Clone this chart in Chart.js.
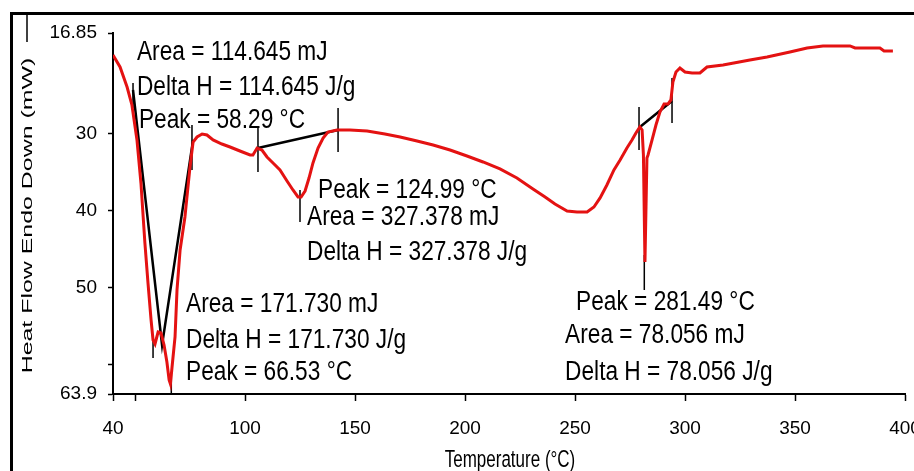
<!DOCTYPE html>
<html>
<head>
<meta charset="utf-8">
<script src="https://cdn.jsdelivr.net/npm/chart.js@4/dist/chart.umd.min.js"></script>
<style>
  html, body { margin: 0; padding: 0; background: #fff; }
  #wrap { width: 914px; height: 471px; position: relative; }
</style>
</head>
<body>
<div id="wrap"><canvas id="c"></canvas></div>
<script>
// ---- DSC curve (temperature in °C, heat flow in mW) ----
const tempC = [40, 43.2, 46.4, 48.6, 50.9, 52.7, 54.5, 55.9, 57.3, 58.2, 59.1, 60.5, 61.8, 63.2, 64.5, 65.5, 66.1, 66.8, 68.2, 69.1, 70.5, 72.7, 75.0, 76.4, 78.2, 80.5, 82.7, 85.5, 89.5, 93.2, 97.7, 102.3, 103.6, 105.5, 107.7, 110, 113.2, 115.9, 119.1, 121.8, 124.1, 125.5, 127.3, 129.1, 130.9, 133.2, 135.5, 137.7, 141.8, 147.7, 155.5, 163.6, 170.5, 178.2, 185.5, 193.2, 200.9, 208.2, 215.9, 223.6, 230.9, 236.4, 240.9, 246.4, 250.9, 255.5, 258.6, 261.4, 264.5, 267.7, 270.5, 273.6, 275.9, 277.7, 279.5, 280.5, 281.1, 281.8, 282.7, 283.2, 285, 286.8, 288.6, 290.5, 292.3, 293.6, 294.5, 295.9, 297.7, 300, 303.2, 306.8, 310, 317.3, 329.5, 337.3, 347.7, 355.5, 362.7, 375, 377.3, 388.6, 390.5, 394.5];
const heatFlow = [19.72, 21.28, 23.89, 26.23, 30.80, 36.40, 44.22, 49.43, 54.25, 56.86, 57.38, 55.82, 55.95, 57.51, 59.73, 62.07, 62.59, 60.51, 56.47, 50.34, 45.13, 40.83, 34.31, 31.06, 30.40, 30.01, 30.14, 30.79, 31.32, 31.71, 32.23, 32.75, 32.75, 31.84, 32.10, 33.01, 33.92, 34.71, 36.14, 37.31, 38.22, 38.22, 37.44, 35.75, 33.79, 31.84, 30.54, 29.75, 29.49, 29.49, 29.62, 30.01, 30.40, 30.93, 31.45, 32.10, 32.88, 33.66, 34.57, 35.75, 37.18, 38.22, 39.14, 40.05, 40.18, 40.18, 39.53, 38.35, 36.66, 34.70, 33.40, 31.84, 30.80, 29.88, 29.10, 29.49, 32.75, 46.69, 33.14, 32.75, 30.80, 28.84, 27.15, 26.10, 26.10, 25.58, 23.24, 21.93, 21.41, 21.93, 22.06, 22.06, 21.28, 21.02, 20.37, 19.98, 19.33, 18.80, 18.54, 18.54, 18.80, 18.80, 19.20, 19.20];

// ---- integration baselines (null separates segments) ----
const baseT = [49.1, 62.3, 76.4, null, 105.9, 142.3, null, 279.5, 294.1];
const baseV = [24.28, 57.51, 30.80, null, 31.84, 29.49, null, 29.10, 25.71];

// ---- limit / peak markers (vertical strokes) ----
const markT      = [49.1, 58.2, 66.5, 75.9, 105.9, 125.0, 142.3, 279.1, 281.5, 294.1];
const markTop    = [23.37, 56.21, 61.42, 28.84, 29.23, 37.31, 26.62, 26.49, 45.78, 22.71];
const markBottom = [26.62, 59.21, 63.90, 34.70, 34.97, 41.48, 32.36, 32.10, 50.34, 28.58];

// ---- peak result labels, anchored at (°C, mW) ----
const annoText = ["Area = 114.645 mJ", "Delta H = 114.645 J/g", "Peak = 58.29 °C",
                  "Peak = 124.99 °C", "Area = 327.378 mJ", "Delta H = 327.378 J/g",
                  "Area = 171.730 mJ", "Delta H = 171.730 J/g", "Peak = 66.53 °C",
                  "Peak = 281.49 °C", "Area = 78.056 mJ", "Delta H = 78.056 J/g"];
const annoT = [50.9, 50.9, 51.8, 133.2, 128.2, 128.2, 73.2, 73.2, 73.2, 250.5, 245.5, 245.5];
const annoV = [20.37, 24.93, 29.23, 38.35, 41.87, 46.43, 53.21, 57.90, 62.07, 52.95, 57.25, 62.07];

// ---- axes ----
const xTicks = [40, 50, 100, 150, 200, 250, 300, 350, 400];
const xTickLabels = ["40", "", "100", "150", "200", "250", "300", "350", "400"];
const yTicks = [16.85, 30, 40, 50, 60, 63.9];
const yTickLabels = ["16.85", "30", "40", "50", "", "63.9"];
const xTitle = "Temperature (°C)";
const yTitle = "Heat Flow Endo Down (mW)";

const SANS = "'Liberation Sans', Arial, sans-serif";
Chart.defaults.font.family = SANS;
Chart.defaults.color = '#000';

const curve = tempC.map((t, i) => ({ x: t, y: heatFlow[i] }));
const baselines = baseT.map((t, i) => ({ x: t, y: baseV[i] }));
const markers = [];
markT.forEach((t, i) => {
  markers.push({ x: t, y: markTop[i] }, { x: t, y: markBottom[i] }, { x: t, y: null });
});

const framePlugin = {
  id: 'frame',
  beforeDraw(chart) {
    const ctx = chart.ctx;
    ctx.save();
    ctx.fillStyle = '#fff';
    ctx.fillRect(0, 0, chart.width, chart.height);
    ctx.restore();
  },
  afterDraw(chart) {
    const ctx = chart.ctx;
    const ca = chart.chartArea;
    ctx.save();
    ctx.strokeStyle = '#000';
    ctx.lineWidth = 3;
    ctx.beginPath();
    ctx.moveTo(11.5, chart.height + 5);
    ctx.lineTo(11.5, 13.5);
    ctx.lineTo(chart.width + 5, 13.5);
    ctx.stroke();
    ctx.lineWidth = 1.5;
    ctx.beginPath();
    ctx.moveTo(27, 14);
    ctx.lineTo(27, 42);
    ctx.stroke();
    ctx.fillStyle = '#000';
    ctx.textAlign = 'center';
    ctx.textBaseline = 'alphabetic';
    // x axis title (tall, narrow lettering like the source)
    ctx.save();
    ctx.translate((ca.left + ca.right) / 2 + 1, chart.height - 4);
    ctx.scale(1, 1.45);
    ctx.font = "17px " + SANS;
    ctx.fillText(xTitle, 0, 0);
    ctx.restore();
    // y axis title (stretched along its length like the source)
    ctx.save();
    ctx.translate(32, (ca.top + ca.bottom) / 2 + 2);
    ctx.rotate(-Math.PI / 2);
    ctx.scale(1.78, 1);
    ctx.font = "14px " + SANS;
    ctx.fillText(yTitle, 0, 0);
    ctx.restore();
    ctx.restore();
  }
};

const annoPlugin = {
  id: 'anno',
  afterDatasetsDraw(chart) {
    const ctx = chart.ctx;
    const xs = chart.scales.x, ys = chart.scales.y;
    ctx.save();
    ctx.font = "27px " + SANS;
    ctx.fillStyle = '#000';
    ctx.textAlign = 'left';
    ctx.textBaseline = 'alphabetic';
    annoText.forEach((s, i) => {
      const px = xs.getPixelForValue(annoT[i]);
      const py = ys.getPixelForValue(annoV[i]);
      ctx.save();
      ctx.translate(px, py);
      ctx.scale(0.84, 1);
      ctx.fillText(s, 0, 0);
      ctx.restore();
    });
    ctx.restore();
  }
};

new Chart(document.getElementById('c'), {
  type: 'line',
  data: {
    datasets: [
      { label: 'Heat flow', data: curve, borderColor: 'rgb(228,18,18)', borderWidth: 3, pointRadius: 0, tension: 0 },
      { label: 'Baselines', data: baselines, borderColor: '#000', borderWidth: 2.5, pointRadius: 0, tension: 0, spanGaps: false },
      { label: 'Markers', data: markers, borderColor: '#000', borderWidth: 1.5, pointRadius: 0, tension: 0, spanGaps: false }
    ]
  },
  options: {
    responsive: true,
    maintainAspectRatio: false,
    animation: false,
    devicePixelRatio: 1,
    layout: { padding: { left: 0, top: 33, right: 9, bottom: 0 } },
    plugins: { legend: { display: false }, tooltip: { enabled: false } },
    scales: {
      x: {
        type: 'linear',
        min: 40, max: 400,
        afterBuildTicks(s) { s.ticks = xTicks.map(v => ({ value: v })); },
        afterFit(s) { s.height = 77; s.paddingLeft = 0; s.paddingRight = 0; },
        ticks: {
          autoSkip: false, maxRotation: 0, padding: 16,
          font: { size: 19 },
          callback(v) { const i = xTicks.indexOf(v); return i >= 0 ? xTickLabels[i] : ''; }
        },
        grid: { drawOnChartArea: false, drawTicks: true, tickLength: 7, color: '#000', tickWidth: 1.5 },
        border: { display: true, color: '#000', width: 2 },
        title: { display: false }
      },
      y: {
        type: 'linear',
        reverse: true,
        min: 16.85, max: 63.9,
        afterBuildTicks(s) { s.ticks = yTicks.map(v => ({ value: v })); },
        afterFit(s) { s.width = 113; s.paddingTop = 0; s.paddingBottom = 0; },
        ticks: {
          autoSkip: false, padding: 11,
          font: { size: 19 },
          callback(v) { const i = yTicks.indexOf(v); return i >= 0 ? yTickLabels[i] : ''; }
        },
        grid: { drawOnChartArea: false, drawTicks: true, tickLength: 5, color: '#000', tickWidth: 1.5 },
        border: { display: true, color: '#000', width: 2 }
      }
    }
  },
  plugins: [framePlugin, annoPlugin]
});
</script>
</body>
</html>
